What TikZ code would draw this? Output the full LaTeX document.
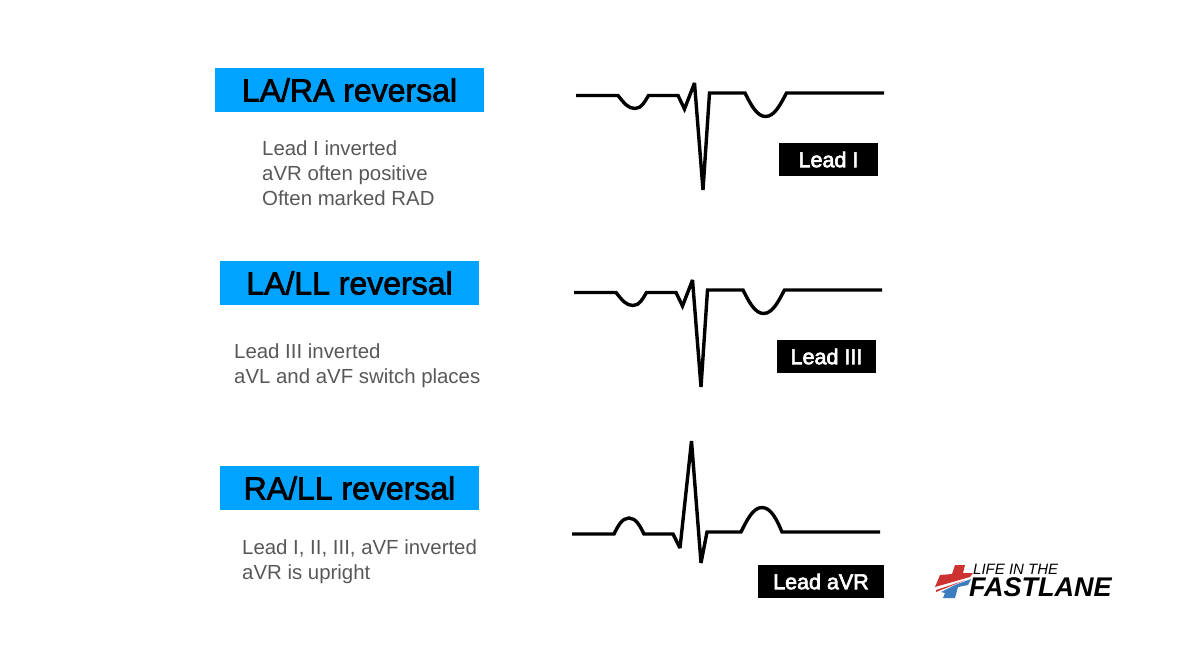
\documentclass[tikz,border=0pt]{standalone}
\usepackage{fontspec}
\setmainfont{Liberation Sans}
\newfontfamily\titlefont[FakeBold=2.2]{Liberation Sans}
\newfontfamily\tagfont[FakeBold=3]{Liberation Sans}
\usetikzlibrary{positioning}
\definecolor{titleblue}{RGB}{0,163,255}
\definecolor{notegrey}{RGB}{88,88,88}
\definecolor{logored}{RGB}{205,50,50}
\definecolor{logoblue}{RGB}{60,125,190}
\begin{document}
\begin{tikzpicture}[x=1pt,y=-1pt,
    title/.style={fill=titleblue,minimum width=#1,minimum height=44pt,inner sep=0pt,font=\fontsize{32}{34}\titlefont},
    note/.style={anchor=north west,align=left,text=notegrey,inner sep=0pt,font=\fontsize{20.4}{25.2}\selectfont},
    tag/.style={fill=black,text=white,minimum height=33pt,inner sep=0pt,font=\fontsize{21.5}{23}\tagfont},
    trace/.style={line width=3.4pt,line join=miter,miter limit=3}]
    \useasboundingbox (0,0) rectangle (1200,664);
    \node[title=269pt] (t_lara) at (349.5,90) {LA/RA reversal};
    \node[title=259pt] (t_lall) at (349.5,283) {LA/LL reversal};
    \node[title=259pt] (t_rall) at (349.5,488) {RA/LL reversal};
    \node[note] (n_lara) at (262,140.5) {Lead I inverted\\aVR often positive\\Often marked RAD};
    \node[note] (n_lall) at (234,343.5) {Lead III inverted\\aVL and aVF switch places};
    \node[note] (n_rall) at (242,539.5) {Lead I, II, III, aVF inverted\\aVR is upright};
    \node[tag,minimum width=99pt] (l_i) at (828.5,159.5) {Lead I};
    \node[tag,minimum width=99pt] (l_iii) at (826.5,356.5) {Lead III};
    \node[tag,minimum width=126pt] (l_avr) at (821,581.5) {Lead aVR};
    % inverted complex, drawn twice
    \foreach \dx/\dy in {0/0,-2/197}{
      \draw[trace,shift={(\dx,\dy)}] (576,95.5) -- (618,95.5)
        .. controls (624,103) and (628,108.5) .. (635,108.5)
        .. controls (642,108.5) and (645,101) .. (648.5,95.5)
        -- (678,95.5) -- (684.5,109) -- (694.5,83) -- (703,190) -- (709.5,93) -- (745,93)
        .. controls (751,105) and (757,116.5) .. (765.5,116.5)
        .. controls (775,116.5) and (781,103) .. (786.5,93)
        -- (884,93);
    }
    % upright complex
    \draw[trace] (572,534) -- (614,534)
      .. controls (618,526) and (622,518) .. (629,518)
      .. controls (636,518) and (640,526) .. (644,534)
      -- (673,534) -- (680,548) -- (691.5,441) -- (701,563) -- (707,532) -- (741,532)
      .. controls (747,520) and (753,507.5) .. (762,507.5)
      .. controls (771,507.5) and (777,520) .. (782,532)
      -- (880,532);
    % logo
    \fill[logored] (955,565) -- (965,565) -- (963,573) -- (973,573) -- (970,577) -- (935,587) -- (940,575) -- (952,574) -- cycle;
    \fill[logored] (936,590) -- (966,580) -- (936,592) -- cycle;
    \fill[logoblue] (971,579) -- (968,585) -- (958,587) -- (955,598) -- (943,598) -- (945,593) -- (941,592) -- (955,585) -- cycle;
    \node[anchor=west,inner sep=0pt,font=\fontsize{15}{15}\selectfont\itshape] (logo_a) at (973,569.5) {LIFE IN THE};
    \node[anchor=west,inner sep=0pt,font=\fontsize{27}{27}\selectfont\bfseries\itshape] (logo_b) at (969,587.5) {FASTLANE};
\end{tikzpicture}
\end{document}
